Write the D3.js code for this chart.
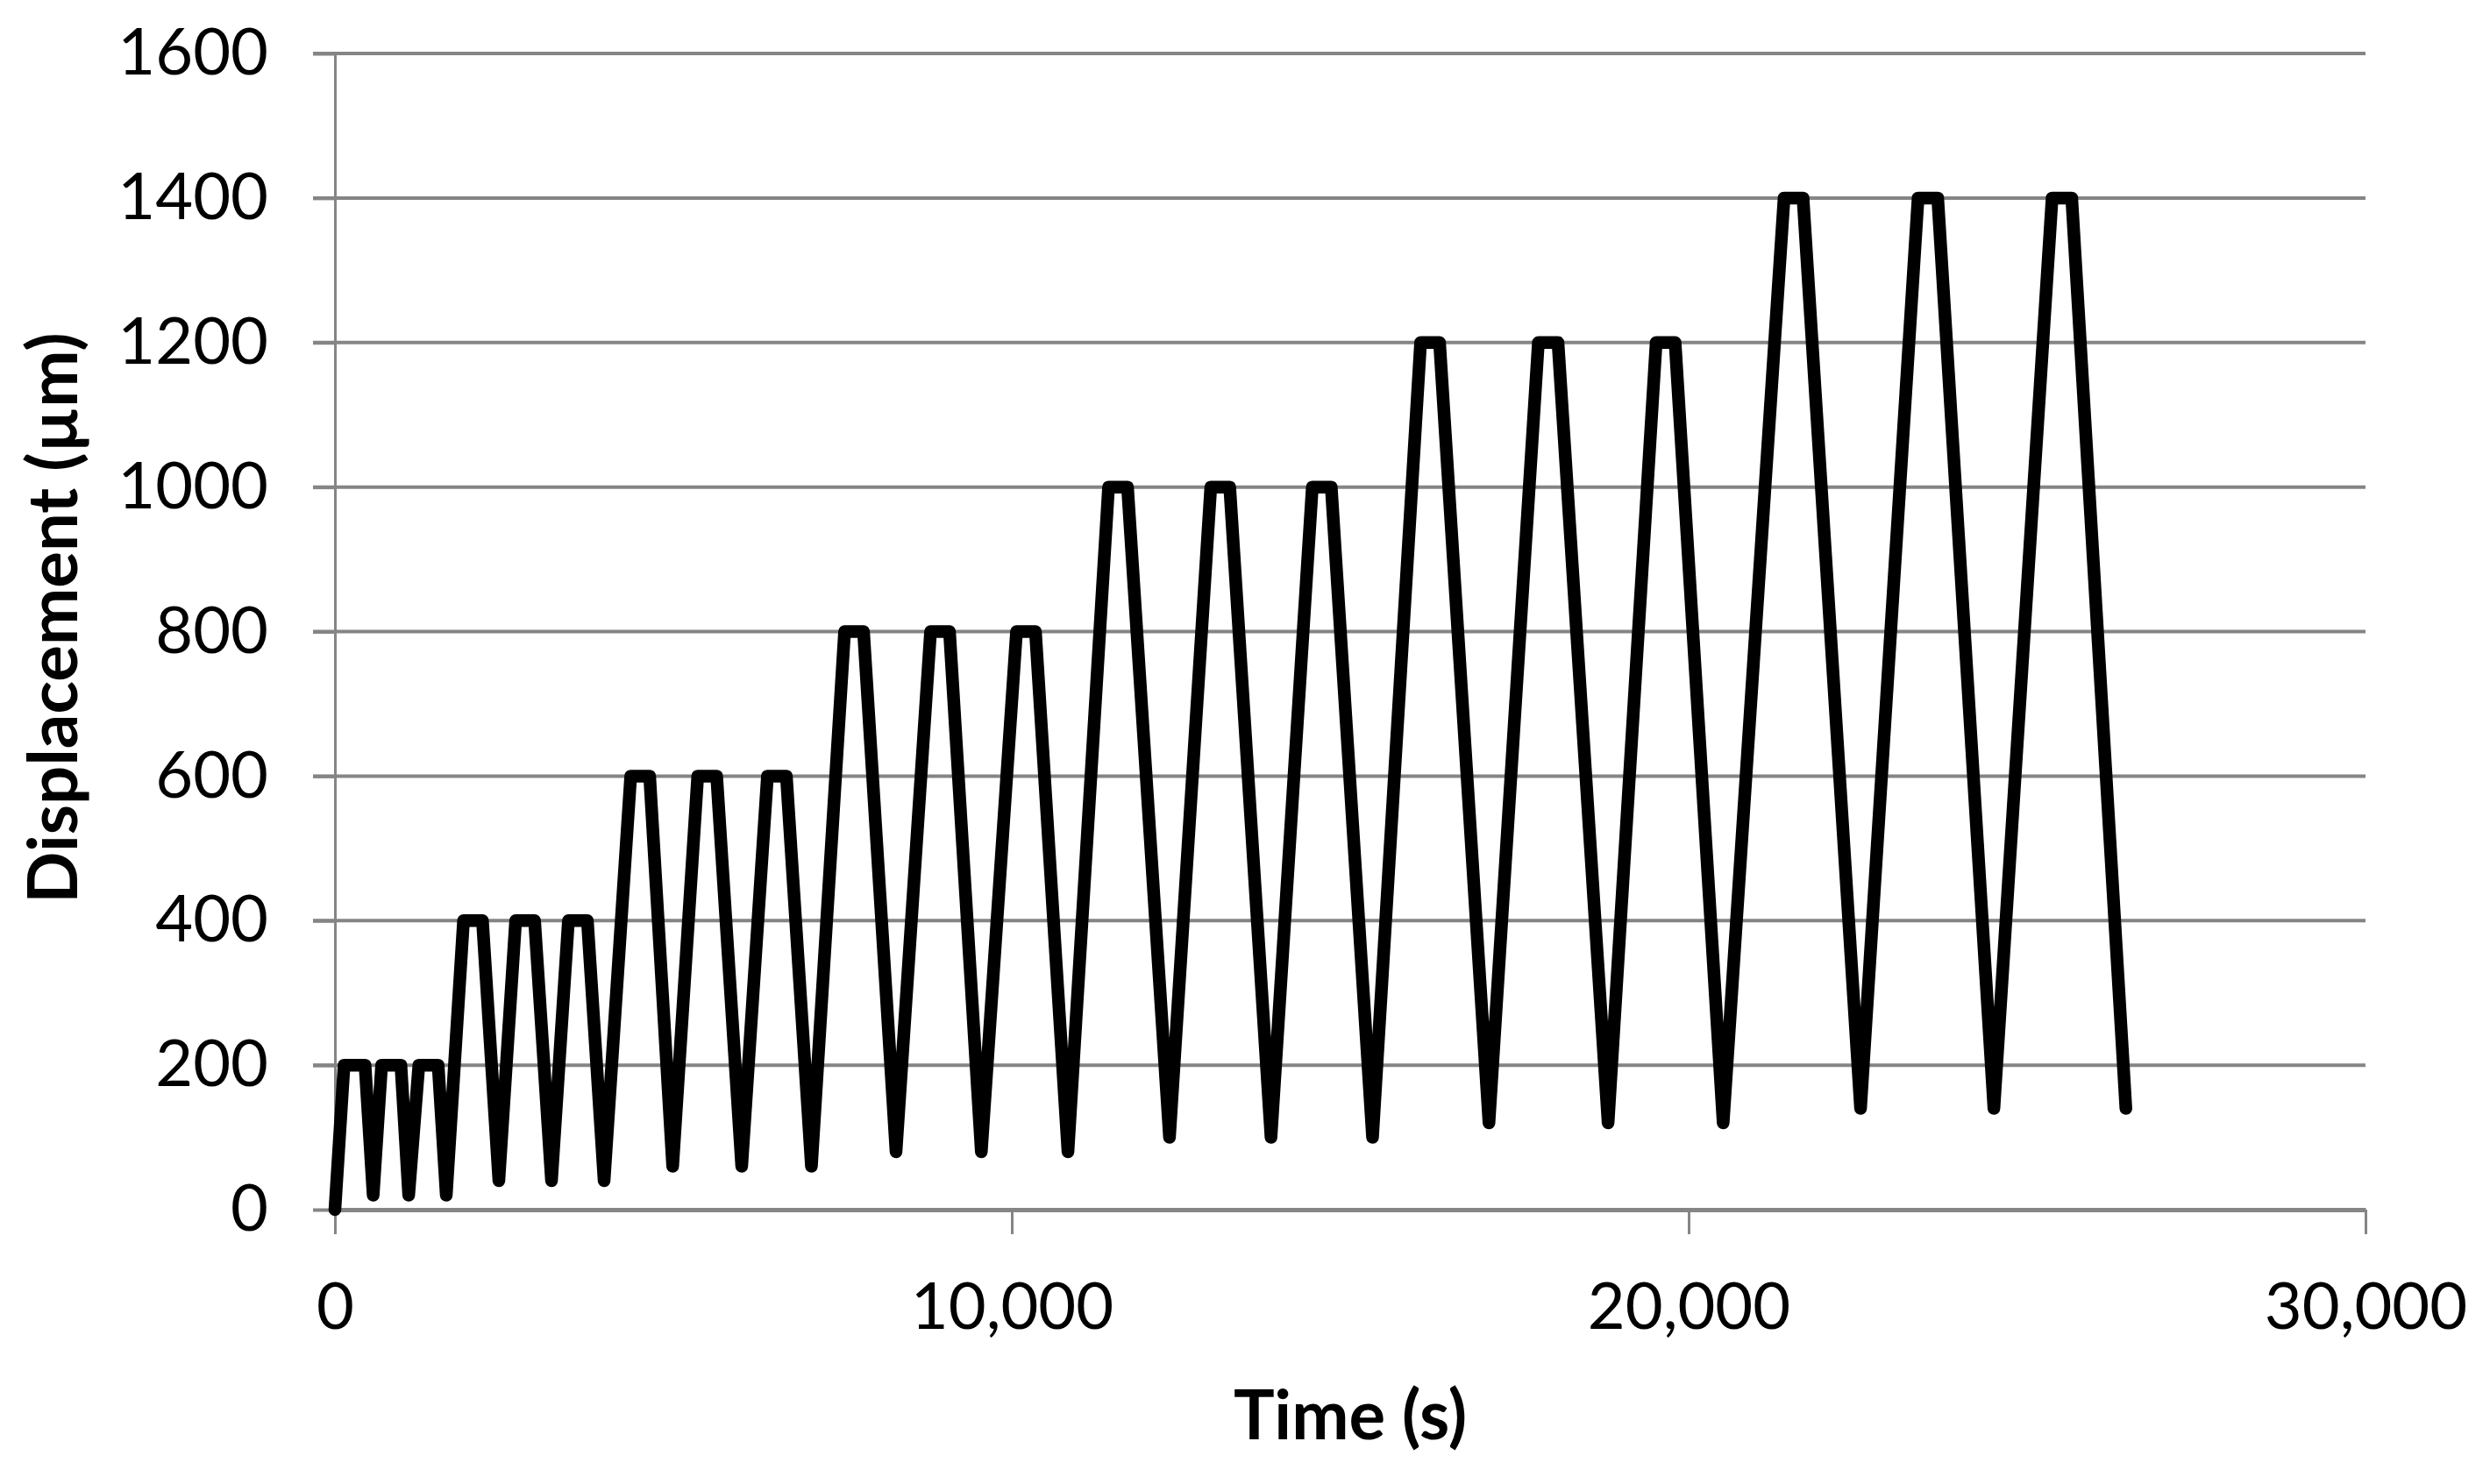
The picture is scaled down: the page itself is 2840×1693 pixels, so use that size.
<!DOCTYPE html>
<html>
<head>
<meta charset="utf-8">
<script src="https://cdn.jsdelivr.net/npm/d3@7"></script>
<style>
  html, body { margin: 0; padding: 0; background: #fff; }
  svg { display: block; }
</style>
</head>
<body>
<svg id="chart" width="2840" height="1693"></svg>
<script>
// Time (s) of each breakpoint of the displacement history
const times = [
  0, 135, 445, 565, 690, 975, 1090, 1240, 1525, 1645,
  1900, 2180, 2422, 2670, 2950, 3200, 3450, 3730, 3977,
  4370, 4650, 4990, 5360, 5640, 6010, 6390, 6670, 7040,
  7530, 7810, 8290, 8800, 9080, 9550, 10070, 10350, 10830,
  11430, 11710, 12330, 12940, 13220, 13830, 14440, 14720, 15330,
  16040, 16320, 17050, 17780, 18070, 18810, 19520, 19800, 20510,
  21410, 21690, 22540, 23390, 23680, 24510, 25370, 25660, 26460
];
// Displacement (µm) at each breakpoint
const displacement = [
  0, 200, 200, 20, 200, 200, 20, 200, 200, 20,
  400, 400, 40, 400, 400, 40, 400, 400, 40,
  600, 600, 60, 600, 600, 60, 600, 600, 60,
  800, 800, 80, 800, 800, 80, 800, 800, 80,
  1000, 1000, 100, 1000, 1000, 100, 1000, 1000, 100,
  1200, 1200, 120, 1200, 1200, 120, 1200, 1200, 120,
  1400, 1400, 140, 1400, 1400, 140, 1400, 1400, 140
];
const yTickValues = [0, 200, 400, 600, 800, 1000, 1200, 1400, 1600];
const xTickValues = [0, 10000, 20000, 30000];
const xTitle = "Time (s)";
const yTitle = "Displacement (µm)";

(function () {
  const svg = d3.select("#chart");
  const pLeft = 382, pRight = 2698, pTop = 61, pBottom = 1380;
  const gridColor = "#858585";
  const fontFam = "Lato, 'Open Sans', sans-serif";

  const x = d3.scaleLinear().domain([0, 30000]).range([pLeft, pRight]);
  const y = d3.scaleLinear().domain([0, 1600]).range([pBottom, pTop]);

  // horizontal gridlines (extend left through the tick mark)
  svg.append("g").selectAll("line")
    .data(yTickValues.filter(d => d > 0))
    .join("line")
    .attr("x1", pLeft - 25).attr("x2", pRight)
    .attr("y1", d => y(d)).attr("y2", d => y(d))
    .attr("stroke", gridColor).attr("stroke-width", 4);

  // Y axis
  const yAxis = svg.append("g")
    .attr("transform", `translate(${pLeft},0)`)
    .call(d3.axisLeft(y).tickValues(yTickValues).tickSize(25).tickPadding(51).tickSizeOuter(0).tickFormat(d3.format("d")));
  yAxis.select(".domain").attr("stroke", gridColor).attr("stroke-width", 3);
  yAxis.selectAll(".tick line").attr("stroke", gridColor).attr("stroke-width", 4);
  yAxis.selectAll(".tick text")
    .attr("font-family", fontFam).attr("font-size", 74).attr("fill", "#000");

  // X axis
  const xAxis = svg.append("g")
    .attr("transform", `translate(0,${pBottom})`)
    .call(d3.axisBottom(x).tickValues(xTickValues).tickSize(28).tickPadding(55).tickSizeOuter(0).tickFormat(d3.format(",")));
  xAxis.select(".domain").attr("stroke", gridColor).attr("stroke-width", 5);
  xAxis.selectAll(".tick line").attr("stroke", gridColor).attr("stroke-width", 3);
  xAxis.selectAll(".tick text")
    .attr("font-family", fontFam).attr("font-size", 74).attr("fill", "#000");

  // Data line
  const data = times.map((t, i) => ({ t: t, v: displacement[i] }));
  const line = d3.line().x(d => x(d.t)).y(d => y(d.v));
  svg.append("path")
    .datum(data)
    .attr("d", line)
    .attr("fill", "none")
    .attr("stroke", "#000")
    .attr("stroke-width", 14.5)
    .attr("stroke-linejoin", "round")
    .attr("stroke-linecap", "round");

  // Axis titles
  svg.append("text")
    .attr("x", (pLeft + pRight) / 2).attr("y", 1642)
    .attr("text-anchor", "middle")
    .attr("font-family", fontFam).attr("font-weight", "bold").attr("font-size", 78)
    .attr("fill", "#000")
    .text(xTitle);

  svg.append("text")
    .attr("transform", "translate(88,705) rotate(-90)")
    .attr("text-anchor", "middle")
    .attr("font-family", fontFam).attr("font-weight", "bold").attr("font-size", 78)
    .attr("fill", "#000")
    .text(yTitle);
})();
</script>
</body>
</html>
